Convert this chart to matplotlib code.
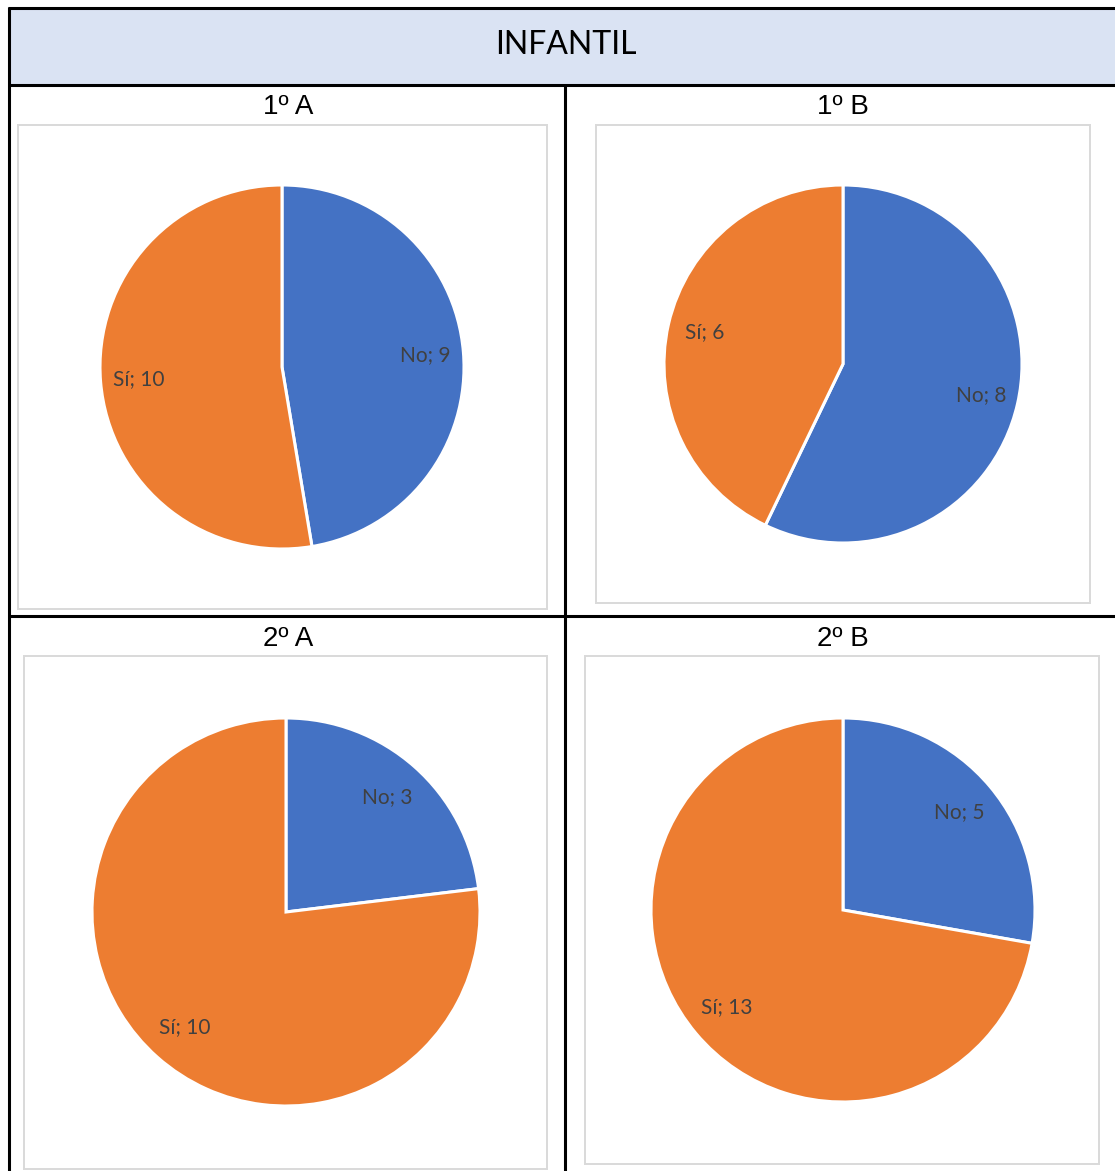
import matplotlib
matplotlib.use("Agg")
import matplotlib.pyplot as plt
from matplotlib.patches import Rectangle
from matplotlib.lines import Line2D

W, H = 1115, 1171
DPI = 100

# ---- data ----
header_title = "INFANTIL"
panel_titles = ["1º A", "1º B", "2º A", "2º B"]
categories = ["No", "Sí"]
no_values = [9, 8, 3, 5]
si_values = [10, 6, 10, 13]
colors = ["#4472C4", "#ED7D31"]

# ---- layout (pixels) ----
title_pos = [(288, 107), (843, 107), (288, 639), (843, 639)]
frames = [(18, 125, 547, 609), (596, 125, 1090, 603),
          (24, 656, 547, 1169), (585, 656, 1099, 1164)]
pie_geom = [(282, 367, 182), (843, 364, 179), (286, 912, 194), (843, 910, 192)]

FONT = ["Lato", "DejaVu Sans"]
TITLE_FONT = ["Liberation Sans", "DejaVu Sans"]
plt.rcParams['font.family'] = FONT

fig = plt.figure(figsize=(W / DPI, H / DPI), dpi=DPI)
fig.patch.set_facecolor("white")


def fx(px):
    return px / W


def fy(py):
    return 1 - py / H


# header band
fig.patches.append(Rectangle((fx(8), fy(85)), fx(W) - fx(8), fy(8) - fy(85),
                             transform=fig.transFigure, facecolor="#DAE3F3",
                             edgecolor="none", zorder=0))
fig.text(fx(566), fy(45), header_title, ha="center", va="center",
         fontsize=23, color="#000000")

# table lines
lw_tab = 2.2
lines = [((8, W), (8, 8)), ((8, W), (85, 85)), ((8, W), (616, 616)),
         ((8.5, 8.5), (7, H)), ((565, 565), (85, H))]
for xs, ys in lines:
    fig.lines.append(Line2D([fx(x) for x in xs], [fy(y) for y in ys],
                            transform=fig.transFigure, color="black",
                            linewidth=lw_tab, solid_capstyle="butt", zorder=5))

for i in range(4):
    # chart frame
    x0, y0, x1, y1 = frames[i]
    fig.patches.append(Rectangle((fx(x0), fy(y1)), fx(x1) - fx(x0), fy(y0) - fy(y1),
                                 transform=fig.transFigure, facecolor="none",
                                 edgecolor="#D9D9D9", linewidth=1.4, zorder=1))
    # panel title
    tx, ty = title_pos[i]
    fig.text(fx(tx), fy(ty), panel_titles[i], ha="center", va="center",
             fontsize=20, color="#000000", family=TITLE_FONT)
    # pie
    cx, cy, r = pie_geom[i]
    ax = fig.add_axes([fx(cx - r), fy(cy + r), fx(2 * r), (2 * r) / H])
    vals = [no_values[i], si_values[i]]
    labels = [f"{c}; {v}" for c, v in zip(categories, vals)]
    wedges, texts = ax.pie(vals, colors=colors, startangle=90, counterclock=False,
                           radius=1, labels=labels, labeldistance=0.79,
                           wedgeprops=dict(edgecolor="white", linewidth=2.2,
                                           clip_on=False))
    for t in texts:
        t.set_ha("center")
        t.set_va("center")
        t.set_fontsize(15)
        t.set_color("#404040")
    ax.set_xlim(-1.0, 1.0)
    ax.set_ylim(-1.0, 1.0)
    ax.set_aspect("equal")
    ax.axis("off")

fig.savefig("out.png", dpi=DPI, facecolor="white")
